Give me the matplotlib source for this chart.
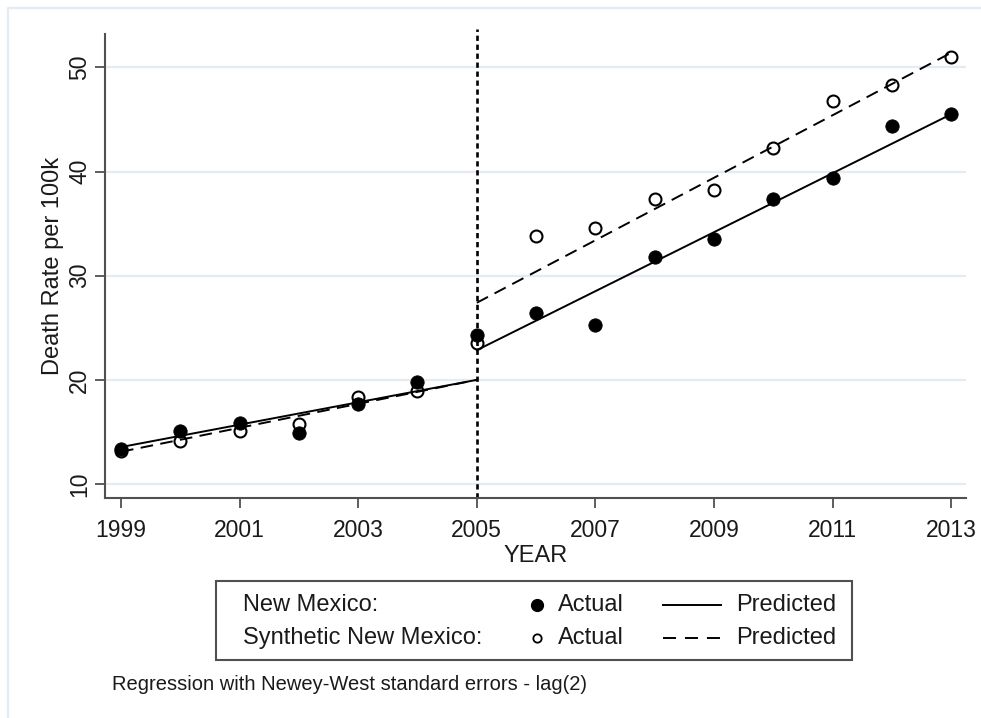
import numpy as np
import matplotlib
matplotlib.use('Agg')
import matplotlib.pyplot as plt
from matplotlib.lines import Line2D
from matplotlib.patches import Rectangle

plt.rcParams['font.family'] = ['Liberation Sans', 'DejaVu Sans']

# data =============================================
years = [1999, 2000, 2001, 2002, 2003, 2004, 2005, 2006, 2007, 2008, 2009, 2010, 2011, 2012, 2013]
nm_actual = [13.4, 15.1, 15.9, 14.9, 17.7, 19.8, 24.3, 26.4, 25.3, 31.8, 33.5, 37.4, 39.4, 44.35, 45.5]
synth_actual = [13.2, 14.1, 15.1, 15.8, 18.4, 18.9, 23.55, 33.8, 34.6, 37.4, 38.2, 42.3, 46.8, 48.3, 51.0]

# fitted segments (start / end of each period)
pre_years = [1999, 2005]
post_years = [2005, 2013]
nm_pred_pre = [13.55, 20.0]
nm_pred_post = [22.85, 45.5]
synth_pred_pre = [13.1, 20.0]
synth_pred_post = [27.4, 51.4]

yticks = [10, 20, 30, 40, 50]
xticks = [1999, 2001, 2003, 2005, 2007, 2009, 2011, 2013]
intervention = 2005

txt = '#1a1a1a'
axis_col = '#505050'
grid_col = '#e4ebf2'

W, H = 981, 718
fig = plt.figure(figsize=(W / 100, H / 100), dpi=100)

def fx(x):
    return x / W

def fy(y):
    return 1 - y / H

# light outer frame (only left and top edges show)
fig.lines.append(Line2D([fx(8), fx(8), 1.0], [0.0, fy(8), fy(8)], color=grid_col, lw=1.6,
                        transform=fig.transFigure))

ax = fig.add_axes([fx(105), fy(498), fx(966) - fx(105), fy(34) - fy(498)])

ax.plot(years, synth_actual, 'o', ms=8.6, mfc='none', mec='black', mew=1.5, zorder=3)
ax.plot(years, nm_actual, 'o', ms=9.6, mfc='black', mec='black', mew=0.6, zorder=4)

ax.plot(pre_years, nm_pred_pre, color='black', lw=1.4, zorder=5)
ax.plot(post_years, nm_pred_post, color='black', lw=1.4, zorder=5)
ax.plot(pre_years, synth_pred_pre, color='black', lw=1.4, ls=(0, (6.5, 3.8)), zorder=5)
ax.plot(post_years, synth_pred_post, color='black', lw=1.4, ls=(0, (6.5, 3.8)), zorder=5)

ax.axvline(intervention, ymax=1.01, color='black', lw=1.9, ls=(0, (2.0, 1.4)), zorder=2, clip_on=False)

ax.set_xlim(1998.73, 2013.25)
ax.set_ylim(8.66, 53.2)
ax.set_xticks(xticks)
ax.set_yticks(yticks)
ax.yaxis.grid(True, color=grid_col, lw=1.6)
ax.set_axisbelow(True)

for s in ['top', 'right']:
    ax.spines[s].set_visible(False)
for s in ['left', 'bottom']:
    ax.spines[s].set_color(axis_col)
    ax.spines[s].set_linewidth(1.5)

ax.tick_params(axis='both', length=7, width=1.3, color=axis_col, labelsize=16.5, labelcolor=txt)
ax.tick_params(axis='x', pad=8)
ax.tick_params(axis='y', pad=3, labelrotation=90)
for lab in ax.get_yticklabels():
    lab.set_va('center')

ax.set_xlabel('YEAR', fontsize=17, color=txt, labelpad=2)
ax.set_ylabel('Death Rate per 100k', fontsize=17, color=txt, labelpad=3)

# legend box drawn by hand, Stata style ======================
fig.patches.append(Rectangle((fx(216), fy(660)), fx(852) - fx(216), fy(581) - fy(660),
                             transform=fig.transFigure, fill=False, edgecolor=axis_col, lw=1.5))
rows = [605, 638]
names = ['New Mexico:', 'Synthetic New Mexico:']
for r, name in zip(rows, names):
    fig.text(fx(243), fy(r), name, fontsize=17, color=txt, va='center', ha='left')
    fig.text(fx(558), fy(r), 'Actual', fontsize=17, color=txt, va='center', ha='left')
    fig.text(fx(736), fy(r), 'Predicted', fontsize=17, color=txt, va='center', ha='left')

fig.lines.append(Line2D([fx(537)], [fy(rows[0])], marker='o', ms=8.5, mfc='black', mec='black',
                        transform=fig.transFigure))
fig.lines.append(Line2D([fx(537)], [fy(rows[1])], marker='o', ms=6, mfc='none', mec='black', mew=1.3,
                        transform=fig.transFigure))
fig.lines.append(Line2D([fx(663), fx(721)], [fy(rows[0])] * 2, color='black', lw=1.4,
                        transform=fig.transFigure))
fig.lines.append(Line2D([fx(663), fx(721)], [fy(rows[1])] * 2, color='black', lw=1.4,
                        ls=(0, (6.7, 4.6)), transform=fig.transFigure))

fig.text(fx(112), fy(685), 'Regression with Newey-West standard errors - lag(2)',
         fontsize=14.5, color=txt, va='center', ha='left')

fig.savefig('out.png', dpi=100)
